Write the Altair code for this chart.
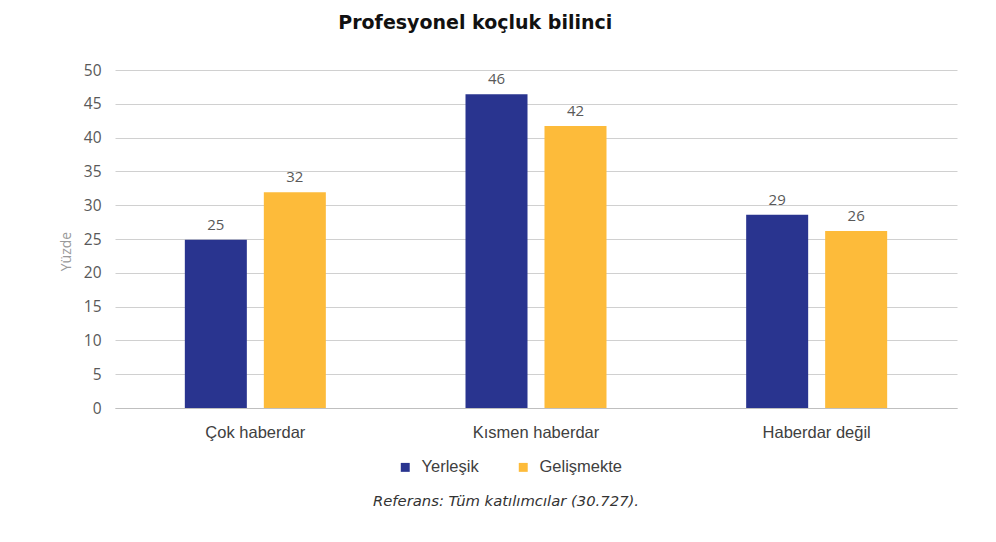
import altair as alt
import pandas as pd

categories = ["Çok haberdar", "Kısmen haberdar", "Haberdar değil"]
series = ["Yerleşik", "Gelişmekte"]
yerlesik = [24.9, 46.4, 28.6]
gelismekte = [31.9, 41.7, 26.2]
y_ticks = [0, 5, 10, 15, 20, 25, 30, 35, 40, 45, 50]
title_text = "Profesyonel koçluk bilinci"
footnote = "Referans: Tüm katılımcılar (30.727)."

rows = []
for c, a, b in zip(categories, yerlesik, gelismekte):
    rows.append({"cat": c, "series": series[0], "val": a})
    rows.append({"cat": c, "series": series[1], "val": b})
df = pd.DataFrame(rows)

colors = ["#29348F", "#FDBB3A"]

x = alt.X("cat:N", sort=categories, title=None,
          scale=alt.Scale(paddingInner=0, paddingOuter=0),
          axis=alt.Axis(labelAngle=0, labelFontSize=16.5, labelColor="#404040",
                        labelFont="Liberation Sans", labelPadding=16,
                        ticks=False, domainColor="#BFBFBF", domainWidth=1.2))
xo = alt.XOffset("series:N", sort=series,
                 scale=alt.Scale(paddingInner=0.215, paddingOuter=0.884))
y = alt.Y("val:Q", title="Yüzde",
          scale=alt.Scale(domain=[0, 50], nice=False),
          axis=alt.Axis(values=y_ticks, labelOverlap=False, domain=False, ticks=False,
                        labelFontSize=15.5, labelColor="#595959", labelFont="Open Sans",
                        labelPadding=14, gridColor="#D0D0D0",
                        titleFontSize=14, titleColor="#999999", titleFont="Open Sans",
                        titleFontWeight="normal", titlePadding=10, titleY=181))

bars = alt.Chart(df).mark_bar().encode(
    x=x, xOffset=xo, y=y,
    color=alt.Color("series:N", sort=series, title=None,
                    scale=alt.Scale(domain=series, range=colors),
                    legend=alt.Legend(orient="none", direction="horizontal",
                                      legendX=282, legendY=389, symbolType="square",
                                      symbolSize=80, labelFontSize=16.5, labelColor="#404040",
                                      labelFont="Liberation Sans", columnPadding=36,
                                      symbolStrokeWidth=0, labelOffset=8))
)

labels = alt.Chart(df).mark_text(dy=-15, fontSize=15, color="#595959", font="Open Sans").encode(
    x=x, xOffset=xo, y=y,
    text=alt.Text("val:Q", format=".0f")
)

foot = alt.Chart(pd.DataFrame({"t": [footnote]})).mark_text(
    fontSize=14.8, fontStyle="italic", color="#333333", font="DejaVu Sans"
).encode(x=alt.value(391), y=alt.value(432), text="t:N")

chart = (bars + labels + foot).properties(
    width=842, height=338,
    autosize=alt.AutoSizeParams(type="none"),
    padding={"left": 107, "top": 62, "right": 31, "bottom": 126},
    title=alt.TitleParams(title_text, anchor="start", dx=279, offset=30,
                          fontSize=19, font="DejaVu Sans", fontWeight="bold", color="#111111"),
).configure_view(stroke=None)

chart.save("out.html", embed_options={"renderer": "svg", "actions": False})
